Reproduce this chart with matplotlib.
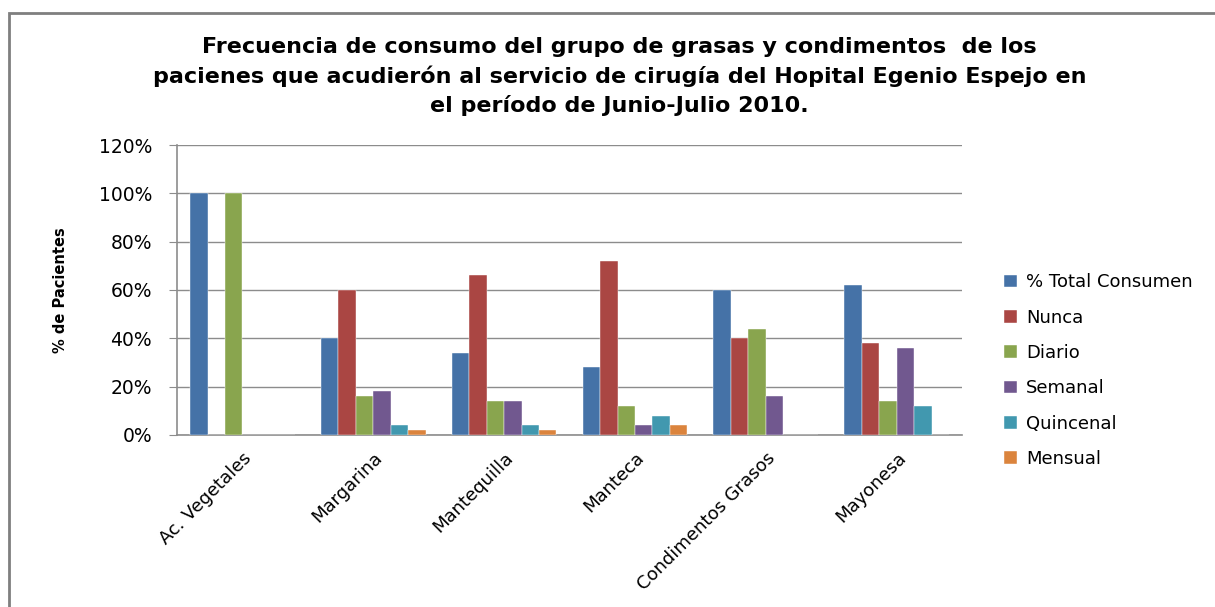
import matplotlib.pyplot as plt
import matplotlib.patches as mpatches
import numpy as np

plt.rcParams['font.family'] = ['DejaVu Sans']

categorias = ['Ac. Vegetales', 'Margarina', 'Mantequilla', 'Manteca',
              'Condimentos Grasos', 'Mayonesa']
series = ['% Total Consumen', 'Nunca', 'Diario', 'Semanal', 'Quincenal', 'Mensual']
total_consumen = [1.00, 0.40, 0.34, 0.28, 0.60, 0.62]
nunca = [0.00, 0.60, 0.66, 0.72, 0.40, 0.38]
diario = [1.00, 0.16, 0.14, 0.12, 0.44, 0.14]
semanal = [0.00, 0.18, 0.14, 0.04, 0.16, 0.36]
quincenal = [0.00, 0.04, 0.04, 0.08, 0.00, 0.12]
mensual = [0.00, 0.02, 0.02, 0.04, 0.00, 0.00]
colores = ['#4572A7', '#AA4643', '#89A54E', '#71588F', '#4198AF', '#DB843D']

valores = [total_consumen, nunca, diario, semanal, quincenal, mensual]

fig = plt.figure(figsize=(12.15, 6.07), dpi=100)
ax = fig.add_axes([0.1457, 0.2834, 0.6461, 0.4777])

# marco exterior del grafico
fig.patches.append(mpatches.Rectangle((9 / 1215, -0.1), 1.2, 1.1 - 13 / 607,
                                      transform=fig.transFigure, fill=False,
                                      edgecolor='#7f7f7f', linewidth=2))

x = np.arange(len(categorias))
ancho = 1 / 7.5
for i, (nombre, vals) in enumerate(zip(series, valores)):
    ax.bar(x - 2.5 * ancho + i * ancho, vals, width=ancho, color=colores[i],
           edgecolor='white', linewidth=0.3, label=nombre, zorder=3)

ax.set_xlim(-0.5, len(categorias) - 0.5)
ax.set_ylim(0, 1.2)
ax.set_yticks(np.arange(0, 1.21, 0.2))
ax.set_yticklabels([f'{int(round(v * 100))}%' for v in np.arange(0, 1.21, 0.2)],
                   fontsize=13.5)
ax.yaxis.grid(True, color='#8c8c8c', linewidth=1, zorder=0)
ax.set_xticks(x)
ax.set_xticklabels(categorias, rotation=45, ha='right', rotation_mode='anchor',
                   fontsize=13)
ax.tick_params(axis='x', length=0, pad=10)
ax.tick_params(axis='y', length=6, color='#8c8c8c', pad=12)
for s in ['top', 'right']:
    ax.spines[s].set_visible(False)
for s in ['left', 'bottom']:
    ax.spines[s].set_color('#8c8c8c')
    ax.spines[s].set_linewidth(1.2)

ax.set_ylabel('% de Pacientes', fontsize=10.5, fontweight='bold', labelpad=22)

ax.set_title('Frecuencia de consumo del grupo de grasas y condimentos  de los\n'
             'pacienes que acudierón al servicio de cirugía del Hopital Egenio Espejo en\n'
             'el período de Junio-Julio 2010.',
             fontsize=16, fontweight='bold', linespacing=1.46, pad=24, x=0.564)

ax.legend(loc='upper left', bbox_to_anchor=(1.033, 0.614), frameon=False,
          fontsize=13, handlelength=0.7, handleheight=0.7, handletextpad=0.5,
          labelspacing=0.96)

fig.savefig('out.png', dpi=100)
